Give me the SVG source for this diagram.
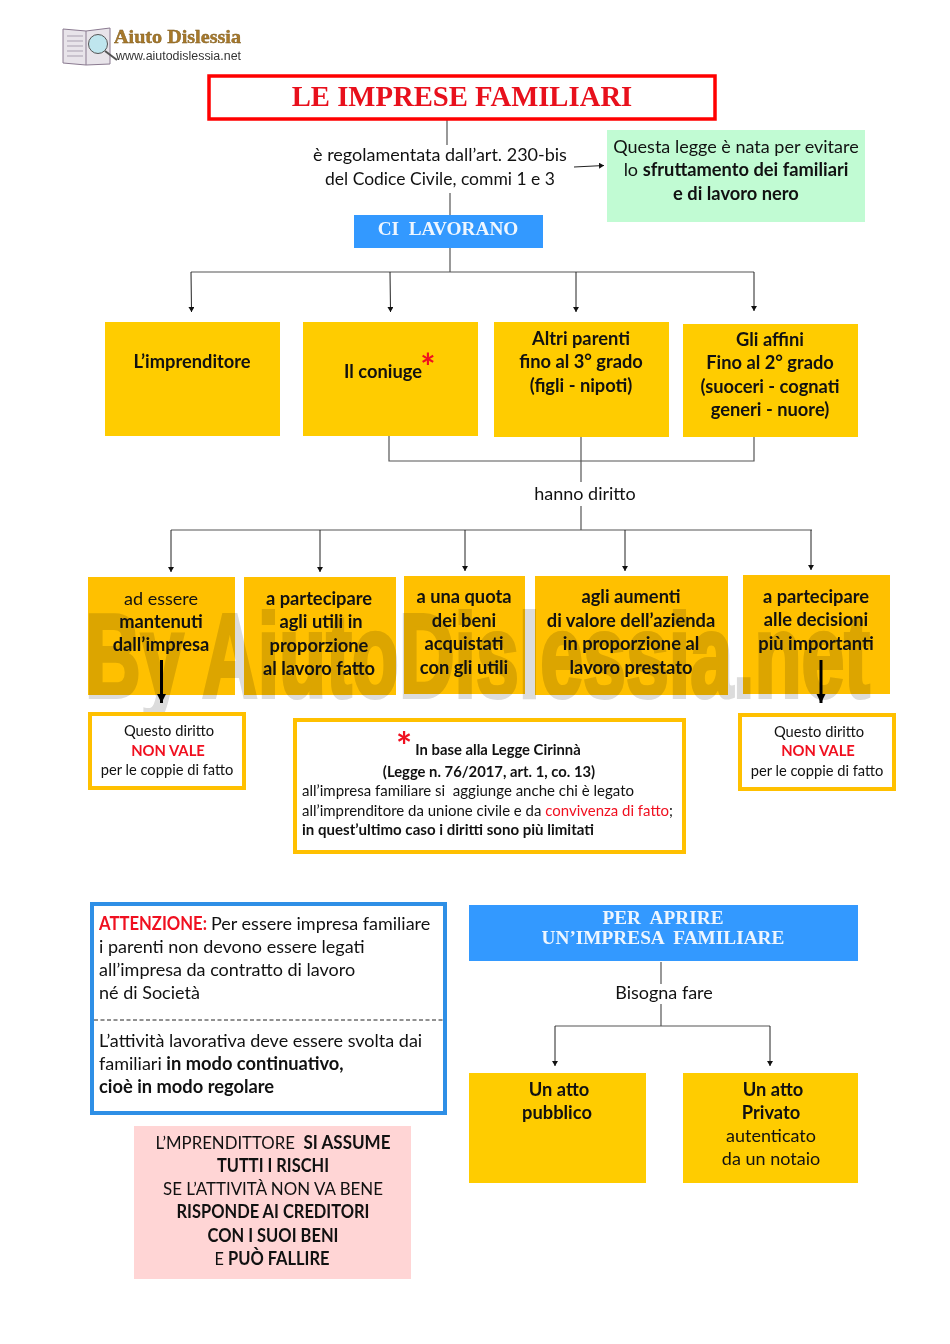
<svg xmlns="http://www.w3.org/2000/svg" width="950" height="1344" viewBox="0 0 950 1344">
<style>
text{font-family:Lato,"Liberation Sans",sans-serif;fill:#111;text-anchor:middle;white-space:pre}
.f18{font-size:18px}.f15{font-size:14.7px}
.b{font-weight:700;font-size:18.3px}
.f15.b,.f15 .b{font-size:14.8px}
.s{font-family:"Liberation Serif",serif;font-weight:700;font-size:19.3px}
.w{fill:#eef6ff}
.y{fill:#ffcc00}.o{fill:#ffc000}
.st{text-anchor:start}
.r{fill:#f01020}
.l{fill:none;stroke:#555;stroke-width:1.2}
.a{fill:none;stroke:#222;stroke-width:1;marker-end:url(#h)}
.bx{fill:#fff;stroke:#ffc000;stroke-width:4}
</style>
<defs>
<marker id="h" markerUnits="userSpaceOnUse" markerWidth="6" markerHeight="7" refX="5" refY="3" orient="auto"><path d="M0 0L5 3L0 6z" fill="#111"/></marker>
<marker id="h2" markerUnits="userSpaceOnUse" markerWidth="11" markerHeight="10" refX="9" refY="4.5" orient="auto"><path d="M0 0L9 4.5L0 9z" fill="#000"/></marker>
</defs>
<rect width="950" height="1344" fill="#fff"/>
<g id="logo">
<path d="M63 29L86 31L110 28V64L86 65L63 63z" fill="#e8e4ea" stroke="#8a7a90"/>
<path d="M86 31V65" stroke="#8a7a90"/>
<path d="M67 36H83M67 41H83M67 46H83M67 51H83M67 56H83" stroke="#a9a0b0"/>
<circle cx="98" cy="44" r="9.500" fill="#bfe6ee" stroke="#555"/>
<path d="M105 51L117 60" stroke="#555" stroke-width="2"/>
<text class="s" x="114" y="43" style="font-size:19px;fill:#a8792a;stroke:#7a5a20;stroke-width:.4;text-anchor:start" textLength="127" lengthAdjust="spacingAndGlyphs">Aiuto Dislessia</text>
<text x="116" y="60" style="font-family:'Liberation Sans',sans-serif;font-size:12px;fill:#333;text-anchor:start" textLength="125" lengthAdjust="spacingAndGlyphs">www.aiutodislessia.net</text>
</g>
<g id="connectors">
<path class="l" d="M447 120V145M450 193V215M450 248V272M191 272H754"/>
<path class="a" d="M191 272L191.500 312"/><path class="a" d="M390 272L390.500 312"/><path class="a" d="M576 272V312"/><path class="a" d="M754 272V311"/>
<path class="a" d="M574 167L604 165.500"/>
<path class="l" d="M389 436V461H754V436M581 437V482M581 506V530M171 530H812"/>
<path class="a" d="M171 530V572"/><path class="a" d="M320 530V572"/><path class="a" d="M465 530V571"/><path class="a" d="M625 530V571"/><path class="a" d="M811 530V570"/>
<path class="l" d="M661 962V984M661 1004V1026M555 1026H770"/>
<path class="a" d="M555 1026V1066"/><path class="a" d="M770 1026V1066"/>
</g>
<g id="title"><rect x="209" y="76" width="506" height="43" fill="#fff" stroke="#f00" stroke-width="3.500"/>
<text class="s" x="462" y="106" style="font-size:28.700px;fill:#e8101c">LE IMPRESE FAMILIARI</text></g>
<g id="legge"><text class="f18" x="440" y="161">è regolamentata dall’art. 230-bis</text><text class="f18" x="440" y="185" textLength="230" lengthAdjust="spacingAndGlyphs">del Codice Civile, commi 1 e 3</text></g>
<g id="nota"><rect x="607" y="130" width="258" height="92" fill="#c1fbd3"/>
<text class="f18" x="736" y="153">Questa legge è nata per evitare</text><text class="f18" x="736" y="176">lo <tspan class="b">sfruttamento dei familiari</tspan></text><text class="b" x="736" y="200">e di lavoro nero</text></g>
<g id="lavorano"><rect x="354" y="215" width="189" height="33" fill="#3399ff"/><text class="s w" x="448" y="235">CI  LAVORANO</text></g>
<g id="n1"><rect class="y" x="105" y="322" width="175" height="114"/><text class="b" x="192" y="368">L’imprenditore</text></g>
<g id="n2"><rect class="y" x="303" y="322" width="175" height="114"/><text class="b" x="383" y="378">Il coniuge</text><text class="r" x="428" y="380" style="font-size:36px;font-weight:700">*</text></g>
<g id="n3"><rect class="y" x="494" y="322" width="175" height="115"/><text class="b" x="581" y="345">Altri parenti</text><text class="b" x="581" y="368">fino al 3° grado</text><text class="b" x="581" y="392">(figli - nipoti)</text></g>
<g id="n4"><rect class="y" x="683" y="324" width="175" height="113"/><text class="b" x="770" y="346">Gli affini</text><text class="b" x="770" y="369">Fino al 2° grado</text><text class="b" x="770" y="393">(suoceri - cognati</text><text class="b" x="770" y="416">generi - nuore)</text></g>
<g id="diritto"><text class="f18" x="585" y="500">hanno diritto</text></g>
<g id="d1"><rect class="o" x="88" y="577" width="147" height="118"/></g>
<g id="d2"><rect class="o" x="244" y="577" width="152" height="118"/></g>
<g id="d3"><rect class="o" x="404" y="576" width="121" height="118"/></g>
<g id="d4"><rect class="o" x="535" y="576" width="193" height="119"/></g>
<g id="d5"><rect class="o" x="743" y="575" width="147" height="119"/></g>
<text id="watermark" x="85" y="697" style="font-family:'Liberation Sans',sans-serif;font-weight:700;font-size:118px;fill:#dcdcdc;stroke:#dcdcdc;stroke-width:4;mix-blend-mode:multiply;text-anchor:start" textLength="785" lengthAdjust="spacingAndGlyphs">By AiutoDislessia.net</text>
<g id="d1t"><text class="f18" x="161" y="605">ad essere</text><text class="b" x="161" y="628">mantenuti</text><text class="b" x="161" y="651">dall’impresa</text></g>
<g id="d2t"><text class="b" x="319" y="605">a partecipare</text><text class="b" x="321" y="628">agli utili in</text><text class="b" x="319" y="652">proporzione</text><text class="b" x="319" y="675">al lavoro fatto</text></g>
<g id="d3t"><text class="b" x="464" y="603">a una quota</text><text class="b" x="464" y="627">dei beni</text><text class="b" x="464" y="650">acquistati</text><text class="b" x="464" y="674">con gli utili</text></g>
<g id="d4t"><text class="b" x="631" y="603">agli aumenti</text><text class="b" x="631" y="627">di valore dell’azienda</text><text class="b" x="631" y="650">in proporzione al</text><text class="b" x="631" y="674">lavoro prestato</text></g>
<g id="d5t"><text class="b" x="816" y="603">a partecipare</text><text class="b" x="816" y="626">alle decisioni</text><text class="b" x="816" y="650">più importanti</text></g>
<g id="forti" fill="none" stroke="#000" stroke-width="3">
<path d="M161.500 660V703" marker-end="url(#h2)"/><path d="M821 660V703" marker-end="url(#h2)"/>
</g>
<g id="v1"><rect class="bx" x="90" y="714" width="154" height="74"/><text class="f15" x="169" y="736">Questo diritto</text><text class="f15 b r" x="168" y="756">NON VALE</text><text class="f15" x="167" y="775">per le coppie di fatto</text></g>
<g id="v2"><rect class="bx" x="740" y="715" width="154" height="74"/><text class="f15" x="819" y="737">Questo diritto</text><text class="f15 b r" x="818" y="756">NON VALE</text><text class="f15" x="817" y="776">per le coppie di fatto</text></g>
<g id="cirinna"><rect class="bx" x="295" y="720" width="389" height="132"/>
<text class="r" x="404" y="760" style="font-size:38px;font-weight:700">*</text><text class="f15 b" x="498" y="755">In base alla Legge Cirinnà</text>
<text class="f15 b" x="489" y="777">(Legge n. 76/2017, art. 1, co. 13)</text>
<text class="f15 st" x="302" y="796" textLength="332" lengthAdjust="spacingAndGlyphs">all’impresa familiare si  aggiunge anche chi è legato</text>
<text class="f15 st" x="302" y="816" textLength="371" lengthAdjust="spacingAndGlyphs">all’imprenditore da unione civile e da <tspan class="r">convivenza di fatto</tspan>;</text>
<text class="f15 b st" x="302" y="835" textLength="292" lengthAdjust="spacingAndGlyphs">in quest’ultimo caso i diritti sono più limitati</text></g>
<g id="attenzione"><rect x="92" y="904" width="353" height="209" fill="#fff" stroke="#2e8fe6" stroke-width="4"/>
<text class="b r st" x="99" y="930" textLength="108" lengthAdjust="spacingAndGlyphs">ATTENZIONE:</text><text class="f18 st" x="211" y="930">Per essere impresa familiare</text>
<text class="f18 st" x="99" y="953">i parenti non devono essere legati</text>
<text class="f18 st" x="99" y="976">all’impresa da contratto di lavoro</text>
<text class="f18 st" x="99" y="999">né di Società</text>
<path d="M94 1020H443" stroke="#222" stroke-dasharray="4 2.500"/>
<text class="f18 st" x="99" y="1047">L’attività lavorativa deve essere svolta dai</text>
<text class="f18 st" x="99" y="1070">familiari <tspan class="b">in modo continuativo,</tspan></text>
<text class="b st" x="99" y="1093">cioè in modo regolare</text></g>
<g id="aprire"><rect x="469" y="905" width="389" height="56" fill="#3399ff"/><text class="s w" x="663" y="924">PER  APRIRE</text><text class="s w" x="663" y="944">UN’IMPRESA  FAMILIARE</text></g>
<g id="bisogna"><text class="f18" x="664" y="999">Bisogna fare</text></g>
<g id="atto1"><rect class="y" x="469" y="1073" width="177" height="110"/><text class="b" x="559" y="1096">Un atto</text><text class="b" x="557" y="1119">pubblico</text></g>
<g id="atto2"><rect class="y" x="683" y="1073" width="175" height="110"/><text class="b" x="773" y="1096">Un atto</text><text class="b" x="771" y="1119">Privato</text><text class="f18" x="771" y="1142">autenticato</text><text class="f18" x="771" y="1165">da un notaio</text></g>
<g id="rischi"><rect x="134" y="1126" width="277" height="153" fill="#ffd5d5"/>
<text class="f18" x="273" y="1149" textLength="235" lengthAdjust="spacingAndGlyphs">L’MPRENDITTORE  <tspan class="b">SI ASSUME</tspan></text><text class="b" x="273" y="1172" textLength="112" lengthAdjust="spacingAndGlyphs">TUTTI I RISCHI</text><text class="f18" x="273" y="1195" textLength="220" lengthAdjust="spacingAndGlyphs">SE L’ATTIVITÀ NON VA BENE</text><text class="b" x="273" y="1218" textLength="193" lengthAdjust="spacingAndGlyphs">RISPONDE AI CREDITORI</text><text class="b" x="273" y="1242" textLength="131" lengthAdjust="spacingAndGlyphs">CON I SUOI BENI</text><text class="f18" x="272" y="1265" textLength="115" lengthAdjust="spacingAndGlyphs">E <tspan class="b">PUÒ FALLIRE</tspan></text></g>
</svg>
